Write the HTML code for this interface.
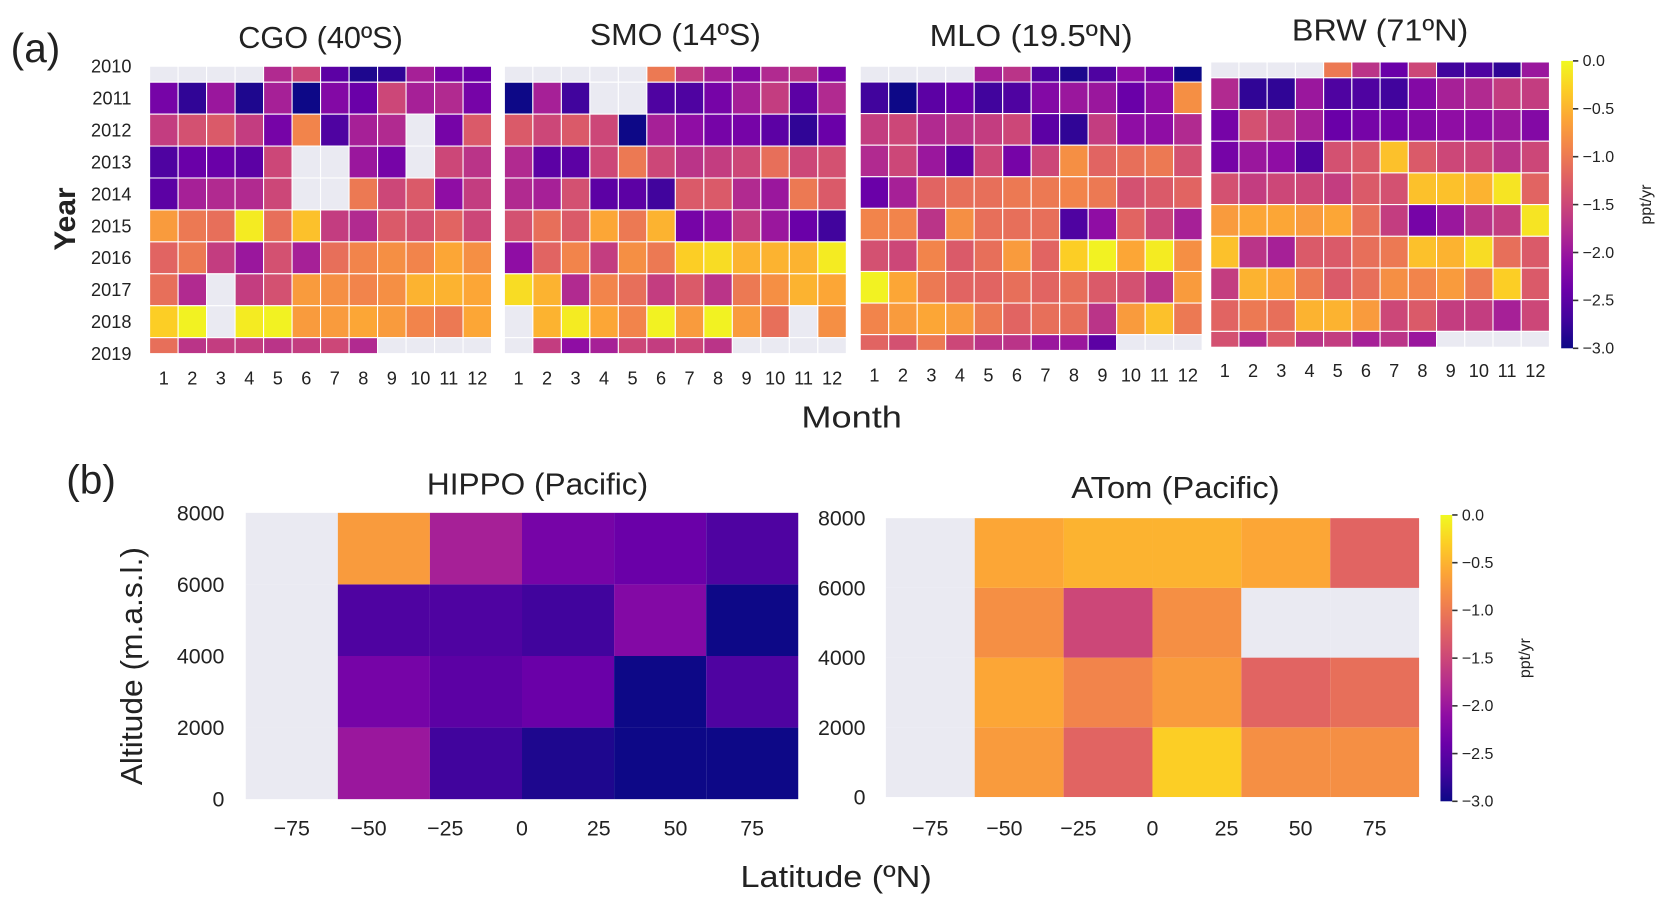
<!DOCTYPE html>
<html><head><meta charset="utf-8"><style>
html,body{margin:0;padding:0;background:#fff;}
svg{display:block;}
text{font-family:"Liberation Sans Narrow","Liberation Sans",sans-serif;fill:#222;}
</style></head><body>
<svg id="fig" width="1667" height="906" viewBox="0 0 1560 848" preserveAspectRatio="none" xmlns="http://www.w3.org/2000/svg">
<text x="10" y="58" font-size="38">(a)</text>
<text x="62" y="462" font-size="38">(b)</text>
<text transform="translate(70,205) rotate(-90)" font-size="28" font-weight="bold" text-anchor="middle" style="font-family:'Liberation Sans',sans-serif">Year</text>
<text x="750" y="400" font-size="29" textLength="94" lengthAdjust="spacingAndGlyphs">Month</text>
<text transform="translate(133,735) rotate(-90)" font-size="29" textLength="223" lengthAdjust="spacingAndGlyphs">Altitude (m.a.s.l.)</text>
<text x="693" y="830" font-size="29" textLength="179" lengthAdjust="spacingAndGlyphs">Latitude (ºN)</text>
</svg>
<script>
const years = [2010,2011,2012,2013,2014,2015,2016,2017,2018,2019];
const months = [1,2,3,4,5,6,7,8,9,10,11,12];
const N = null;
const cgoValues = [
[N,N,N,N,-1.8,-1.5,-2.5,-2.9,-2.8,-1.9,-2.3,-2.4],
[-2.3,-2.8,-2.0,-2.9,-1.9,-3.0,-2.2,-2.4,-1.5,-1.9,-1.8,-2.3],
[-1.6,-1.4,-1.3,-1.6,-2.3,-0.9,-2.6,-1.9,-1.8,N,-2.3,-1.3],
[-2.6,-2.4,-2.4,-2.5,-1.5,N,N,-2.0,-2.3,N,-1.5,-1.7],
[-2.5,-1.9,-1.8,-1.8,-1.5,N,N,-1.0,-1.5,-1.3,-2.1,-1.6],
[-0.7,-1.0,-1.1,-0.1,-1.1,-0.4,-1.6,-1.8,-1.3,-1.4,-1.2,-1.5],
[-1.2,-1.0,-1.6,-2.0,-1.4,-1.9,-1.1,-0.9,-0.8,-0.9,-0.6,-0.8],
[-1.1,-1.8,N,-1.6,-1.4,-0.7,-0.8,-0.9,-0.8,-0.5,-0.5,-0.6],
[-0.3,-0.05,N,-0.1,-0.05,-0.7,-0.7,-0.6,-0.7,-0.9,-1.0,-0.6],
[-1.1,-1.7,-1.6,-1.6,-1.7,-1.6,-1.5,-1.8,N,N,N,N]];
const smoValues = [
[N,N,N,N,N,-1.0,-1.6,-1.9,-2.2,-1.8,-1.7,-2.3],
[-3.0,-1.9,-2.7,N,N,-2.6,-2.6,-2.3,-1.9,-1.6,-2.5,-1.8],
[-1.3,-1.5,-1.3,-1.5,-3.0,-1.9,-2.1,-2.3,-2.3,-2.5,-2.8,-2.4],
[-1.8,-2.5,-2.5,-1.5,-1.0,-1.5,-1.7,-1.6,-1.5,-1.1,-1.5,-1.4],
[-1.8,-1.9,-1.4,-2.5,-2.5,-2.7,-1.3,-1.3,-1.8,-2.0,-1.0,-1.3],
[-1.4,-1.1,-1.3,-0.6,-1.0,-0.5,-2.3,-2.1,-1.6,-2.0,-2.4,-2.7],
[-2.1,-1.2,-0.9,-1.6,-0.8,-1.0,-0.3,-0.2,-0.5,-0.5,-0.5,-0.1],
[-0.2,-0.5,-1.8,-0.9,-1.1,-1.6,-1.3,-1.7,-1.0,-0.8,-0.5,-0.6],
[N,-0.5,-0.1,-0.6,-0.9,-0.05,-0.7,-0.05,-0.7,-1.1,N,-0.8],
[N,-1.6,-2.1,-1.9,-1.5,-1.6,-1.5,-1.7,N,N,N,N]];
const mloValues = [
[N,N,N,N,-1.9,-1.7,-2.6,-2.9,-2.6,-2.1,-2.3,-3.0],
[-2.7,-3.0,-2.5,-2.4,-2.7,-2.6,-2.2,-2.0,-2.0,-2.4,-2.1,-0.8],
[-1.6,-1.5,-1.8,-1.7,-1.6,-1.5,-2.5,-2.8,-1.6,-2.1,-2.1,-1.8],
[-1.8,-1.5,-2.0,-2.5,-1.5,-2.3,-1.5,-0.8,-1.2,-1.1,-1.0,-1.4],
[-2.4,-1.9,-1.2,-1.1,-1.1,-1.0,-1.0,-0.9,-1.0,-1.4,-1.3,-1.2],
[-0.9,-0.9,-1.7,-0.8,-1.1,-1.1,-1.1,-2.6,-2.1,-1.2,-1.5,-1.9],
[-1.4,-1.5,-0.9,-1.3,-1.1,-0.7,-1.2,-0.3,-0.05,-0.6,-0.1,-0.8],
[-0.05,-0.6,-1.0,-1.2,-1.2,-1.1,-1.2,-1.1,-1.3,-1.4,-1.7,-0.7],
[-0.9,-0.7,-0.6,-0.7,-1.0,-1.2,-1.1,-1.1,-1.7,-0.7,-0.4,-1.0],
[-1.2,-1.4,-1.0,-1.5,-1.7,-1.7,-2.0,-2.0,-2.5,N,N,N]];
const brwValues = [
[N,N,N,N,-1.0,-1.7,-2.4,-1.5,-2.7,-2.6,-2.8,-2.0],
[-1.8,-2.8,-2.8,-2.0,-2.6,-2.6,-2.7,-2.2,-1.9,-1.8,-1.6,-1.6],
[-2.3,-1.4,-1.6,-1.9,-2.4,-2.3,-2.3,-2.2,-2.1,-2.1,-2.0,-2.2],
[-2.3,-2.0,-2.1,-2.6,-1.4,-1.3,-0.4,-1.3,-1.5,-1.5,-1.7,-1.5],
[-1.4,-1.6,-1.5,-1.5,-1.6,-1.3,-1.4,-0.4,-0.4,-0.5,-0.15,-1.2],
[-0.7,-0.6,-0.6,-0.7,-0.6,-1.1,-1.6,-2.3,-2.0,-1.7,-1.6,-0.15],
[-0.4,-1.7,-1.9,-1.3,-1.3,-1.1,-1.0,-0.4,-0.5,-0.2,-1.1,-1.3],
[-1.6,-0.5,-0.6,-1.0,-1.3,-1.1,-0.8,-0.9,-0.7,-1.0,-0.3,-1.3],
[-1.2,-1.0,-1.1,-0.5,-0.5,-0.7,-1.5,-1.3,-1.6,-1.6,-1.9,-1.5],
[-1.4,-1.8,-1.3,-1.7,-1.6,-1.9,-1.7,-2.0,N,N,N,N]];
const latBins = [-75,-45,-15,15,45,75];
const altBins = [1000,3000,5000,7000];
const hippoValues = [
[N,-2.0,-2.7,-2.9,-3.0,-3.0],
[N,-2.3,-2.5,-2.4,-3.0,-2.6],
[N,-2.6,-2.6,-2.7,-2.2,-3.0],
[N,-0.7,-1.9,-2.3,-2.4,-2.6]];
const atomValues = [
[N,-0.7,-1.2,-0.3,-0.8,-0.8],
[N,-0.6,-0.9,-0.7,-1.2,-1.1],
[N,-0.8,-1.5,-0.8,N,N],
[N,-0.6,-0.5,-0.5,-0.6,-1.2]];
const latTicks = [-75,-50,-25,0,25,50,75];
const altTicks = [0,2000,4000,6000,8000];
const cbarTicks = [0.0,-0.5,-1.0,-1.5,-2.0,-2.5,-3.0];

const NS = "http://www.w3.org/2000/svg";
const svg = document.getElementById('fig');
const stops = ["#0d0887","#41049d","#6a00a8","#8f0da4","#b12a90","#cc4778","#e16462","#f2844b","#fca636","#fcce25","#f0f921"];
function hex(h){return [1,3,5].map(i=>parseInt(h.substr(i,2),16));}
function plasma(v){
  let t=(v+3)/3; t=Math.max(0,Math.min(1,t));
  const p=t*10, i=Math.min(9,Math.floor(p)), f=p-i;
  const a=hex(stops[i]), b=hex(stops[i+1]);
  return 'rgb('+a.map((c,k)=>Math.round(c+(b[k]-c)*f)).join(',')+')';
}
function mk(tag, attrs, parent){
  const e=document.createElementNS(NS,tag);
  for(const k in attrs) e.setAttribute(k,attrs[k]);
  (parent||svg).appendChild(e); return e;
}
function txt(x,y,s,size,anchor,parent){
  const t=mk('text',{x:x,y:y,'font-size':size,'text-anchor':anchor||'middle'},parent);
  t.textContent=s; return t;
}
function title(cx,y,s,w){
  const t=mk('text',{x:cx-w/2,y:y,'font-size':29,textLength:w,lengthAdjust:'spacingAndGlyphs'});
  t.textContent=s; return t;
}
const NAN = "#eaeaf2";

const panels = [
 {name:'cgo',title:'CGO (40ºS)',tw:154,vals:cgoValues,x0:140,x1:460,y0:62,y1:331,ty:45,ly:360},
 {name:'smo',title:'SMO (14ºS)',tw:160,vals:smoValues,x0:472,x1:792,y0:62,y1:331,ty:42,ly:360},
 {name:'mlo',title:'MLO (19.5ºN)',tw:190,vals:mloValues,x0:805,x1:1125,y0:62,y1:328,ty:43,ly:357},
 {name:'brw',title:'BRW (71ºN)',tw:165,vals:brwValues,x0:1133,x1:1450,y0:58,y1:325,ty:38,ly:353}
];
panels.forEach((p,pi)=>{
  const g=mk('g',{});
  
  
  const cw=(p.x1-p.x0)/months.length;
  const u=(p.y1-p.y0)/(years.length-1);
  const yScale = i => p.y0 + i*u;
  years.forEach((yr,i)=>{
    const top=Math.max(p.y0,yScale(i)-u/2), bot=Math.min(p.y1,yScale(i)+u/2);
    months.forEach((m,j)=>{
      const v=p.vals[i][j];
      const r=mk('rect',{x:p.x0+j*cw,y:top,width:cw,height:bot-top,fill:v===null?NAN:plasma(v),stroke:'#fff','stroke-width':1},g);
      
      
    });
    if(pi===0){
      const t=txt(123,yScale(i)+6,String(yr),17,'end');
      
      
    }
  });
  months.forEach((m,j)=>{
    const t=txt(p.x0+(j+0.5)*cw,p.ly,String(m),17,'middle');
    
    
  });
  const t=title((p.x0+p.x1)/2,p.ty,p.title,p.tw);
  
  
});

const bpanels = [
 {name:'hippo',title:'HIPPO (Pacific)',tw:207,vals:hippoValues,x0:230,x1:747,y0:480,y1:748,tx:503,ty:463,ylx:210},
 {name:'atom',title:'ATom (Pacific)',tw:195,vals:atomValues,x0:829,x1:1328,y0:485,y1:746,tx:1100,ty:466,ylx:810}
];
bpanels.forEach(p=>{
  const g=mk('g',{});
  
  
  const xs = lat => p.x0 + (lat+90)/180*(p.x1-p.x0);
  const ys = alt => p.y1 - alt/8000*(p.y1-p.y0);
  altBins.forEach((a,i)=>{
    latBins.forEach((l,j)=>{
      const v=p.vals[i][j];
      const r=mk('rect',{x:xs(l-15),y:ys(a+1000),width:xs(l+15)-xs(l-15),height:ys(a-1000)-ys(a+1000),fill:v===null?NAN:plasma(v)},g);
      
      
    });
  });
  latTicks.forEach(l=>{
    const t=txt(xs(l),782,(l<0?'\u2212':'')+Math.abs(l),20,'middle');
    
    
  });
  altTicks.forEach(a=>{
    const t=txt(p.ylx,ys(a)+7,String(a),20,'end');
    
    
  });
  const t=title(p.tx,p.ty,p.title,p.tw);
  
  
});

let gid=0;
[{name:'colorbar-a',x:1461,y0:57,y1:326,lx:1545,fs:15},{name:'colorbar-b',x:1348,y0:482,y1:750,lx:1432,fs:15}].forEach(c=>{
  const g=mk('g',{});
  
  
  const id='grad'+(gid++);
  const defs=mk('defs',{},g);
  const lg=mk('linearGradient',{id:id,x1:0,y1:1,x2:0,y2:0},defs);
  stops.forEach((s,i)=>mk('stop',{offset:i/10,'stop-color':s},lg));
  mk('rect',{x:c.x,y:c.y0,width:11,height:c.y1-c.y0,fill:'url(#'+id+')'},g);
  cbarTicks.forEach(v=>{
    const y=c.y1-(v+3)/3*(c.y1-c.y0);
    mk('line',{x1:c.x+11,x2:c.x+16,y1:y,y2:y,stroke:'#333','stroke-width':1.5},g);
    const t=txt(c.x+20,y+5,(v<0?'\u2212':'')+Math.abs(v).toFixed(1),c.fs,'start',g);
    
    
  });
  const t=mk('text',{transform:'translate('+c.lx+','+((c.y0+c.y1)/2)+') rotate(-90)','font-size':15,'text-anchor':'middle'},g);
  t.textContent='ppt/yr';
  
  
});
</script>
</body></html>
